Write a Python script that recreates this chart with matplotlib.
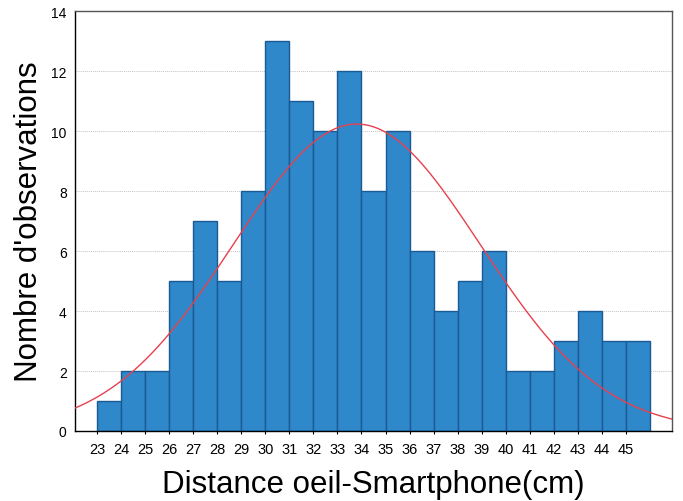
import numpy as np
import matplotlib.pyplot as plt

plt.rcParams.update(
    {
        "font.family": ["Liberation Sans", "DejaVu Sans"],
        "axes.linewidth": 1.0,
    }
)

# Histogram data: left bin edge (cm) and number of observations
bin_left = [23, 24, 25, 26, 27, 28, 29, 30, 31, 32, 33, 34,
            35, 36, 37, 38, 39, 40, 41, 42, 43, 44, 45]
counts = [1, 2, 2, 5, 7, 5, 8, 13, 11, 10, 12, 8,
          10, 6, 4, 5, 6, 2, 2, 3, 4, 3, 3]
tick_labels = [str(v) for v in bin_left]

bin_left = np.array(bin_left, dtype=float)
counts = np.array(counts, dtype=float)
bin_width = 1.0

# Fitted normal curve (from the histogram data itself)
n = counts.sum()
mu = np.sum(bin_left * counts) / n + bin_width / 2
sigma = np.sqrt(np.sum(counts * (bin_left + bin_width / 2 - mu) ** 2) / (n - 1))

fig = plt.figure(figsize=(6.83, 5.02), dpi=100)
ax = fig.add_axes([75 / 683, 1 - 432 / 502, (672 - 75) / 683, (432 - 12) / 502])

ax.bar(
    bin_left,
    counts,
    width=bin_width,
    align="edge",
    color="#2E88C9",
    edgecolor="#1B5A92",
    linewidth=1.0,
    zorder=2,
)

xs = np.linspace(22.08, 46.92, 400)
ys = n * bin_width / (sigma * np.sqrt(2 * np.pi)) * np.exp(-0.5 * ((xs - mu) / sigma) ** 2)
ax.plot(xs, ys, color="#E8404F", linewidth=1.0, zorder=3)

ax.set_xlim(22.08, 46.92)
ax.set_ylim(0, 14)
ax.set_xticks(bin_left)
ax.set_xticklabels(tick_labels)
ax.set_yticks(np.arange(0, 15, 2))

ax.yaxis.grid(True, linestyle=(0, (1, 1)), color="#C4C4C4", linewidth=0.7, zorder=0)
ax.set_axisbelow(True)

ax.tick_params(axis="x", direction="out", length=2, width=0.8, labelsize=10.5, pad=6)
ax.tick_params(axis="y", direction="in", length=0, labelsize=10, pad=6)

for side in ["top", "right"]:
    ax.spines[side].set_color("#555555")
for side in ["left", "bottom"]:
    ax.spines[side].set_color("black")

ax.set_xlabel("Distance oeil-Smartphone(cm)", fontsize=22.5, labelpad=9)
ax.set_ylabel("Nombre d'observations", fontsize=22.5, labelpad=5)

plt.savefig("out.png", dpi=100)
